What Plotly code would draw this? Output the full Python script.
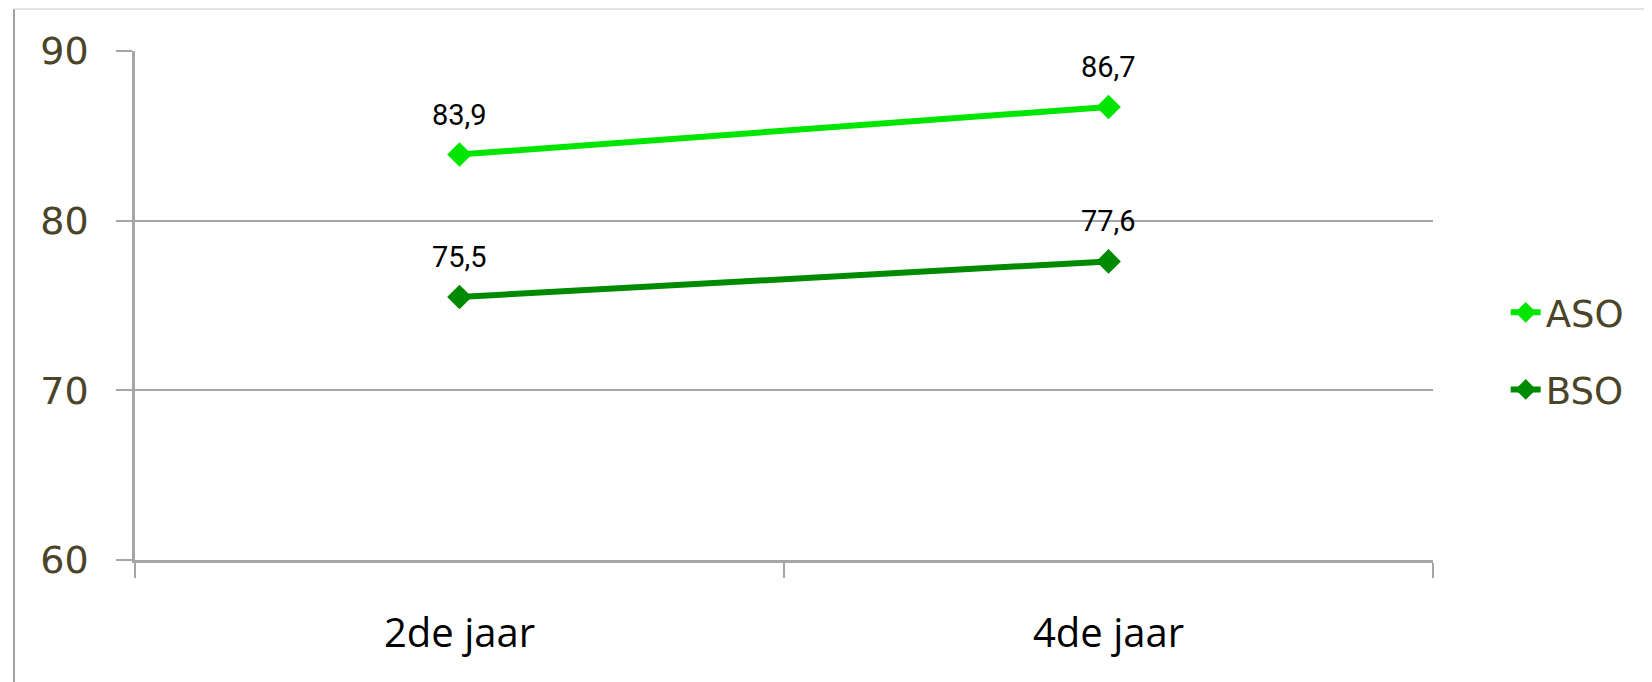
import plotly.graph_objects as go

categories = ["2de jaar", "4de jaar"]
aso_values = [83.9, 86.7]
bso_values = [75.5, 77.6]
aso_labels = ["83,9", "86,7"]
bso_labels = ["75,5", "77,6"]
y_ticks = [60, 70, 80, 90]

ASO_COLOR = "#00E600"
BSO_COLOR = "#008A00"
GRID = "#A6A6A6"
OLIVE = "#4A4428"

fig = go.Figure()
for name, vals, col, grp in [("ASO", aso_values, ASO_COLOR, "a"), ("BSO", bso_values, BSO_COLOR, "b")]:
    fig.add_trace(go.Scatter(
        x=categories, y=vals, name=name, mode="lines+markers",
        line=dict(color=col, width=6),
        marker=dict(symbol="diamond", size=19, color=col),
        legendgroup=grp, cliponaxis=False,
    ))

for vals, labels in [(aso_values, aso_labels), (bso_values, bso_labels)]:
    for c, v, t in zip(categories, vals, labels):
        fig.add_annotation(x=c, y=v, text=t, showarrow=False, yshift=40,
                           font=dict(family="Liberation Sans Narrow, Arial Narrow, Roboto", size=29, color="#000000"))

# outer chart-area frame (left and top edges)
fig.add_shape(type="line", xref="paper", yref="paper", x0=-0.0932, x1=-0.0932, y0=1.0825, y1=-0.3,
              line=dict(color="#A0A0A0", width=2))
fig.add_shape(type="line", xref="paper", yref="paper", x0=-0.0932, x1=1.2, y0=1.0825, y1=1.0825,
              line=dict(color="#D9D9D9", width=1.5))

fig.update_layout(
    width=1652, height=682,
    margin=dict(l=127, r=227, t=43, b=130),
    paper_bgcolor="white", plot_bgcolor="white",
    showlegend=True,
    legend=dict(x=1.056, xanchor="left", y=0.41, yanchor="middle",
                font=dict(family="DejaVu Sans", size=37, color=OLIVE),
                tracegroupgap=26, bgcolor="rgba(0,0,0,0)"),
    xaxis=dict(type="category", range=[-0.5, 1.5], tickson="boundaries",
               ticks="outside", ticklen=15, tickcolor=GRID, tickwidth=1.5,
               showline=True, linecolor=GRID, linewidth=2.5, showgrid=False,
               tickfont=dict(family="Open Sans", size=40, color="#000000"),
               ticklabelstandoff=36, zeroline=False),
    yaxis=dict(range=[60, 90], tickvals=y_ticks, ticks="outside", ticklen=16,
               tickcolor=GRID, tickwidth=1.5, showline=True, linecolor=GRID, linewidth=2.5,
               showgrid=True, gridcolor=GRID, gridwidth=1.5, zeroline=False,
               tickfont=dict(family="DejaVu Sans", size=38, color=OLIVE),
               ticklabelstandoff=20),
)

fig.write_html("out.html")
